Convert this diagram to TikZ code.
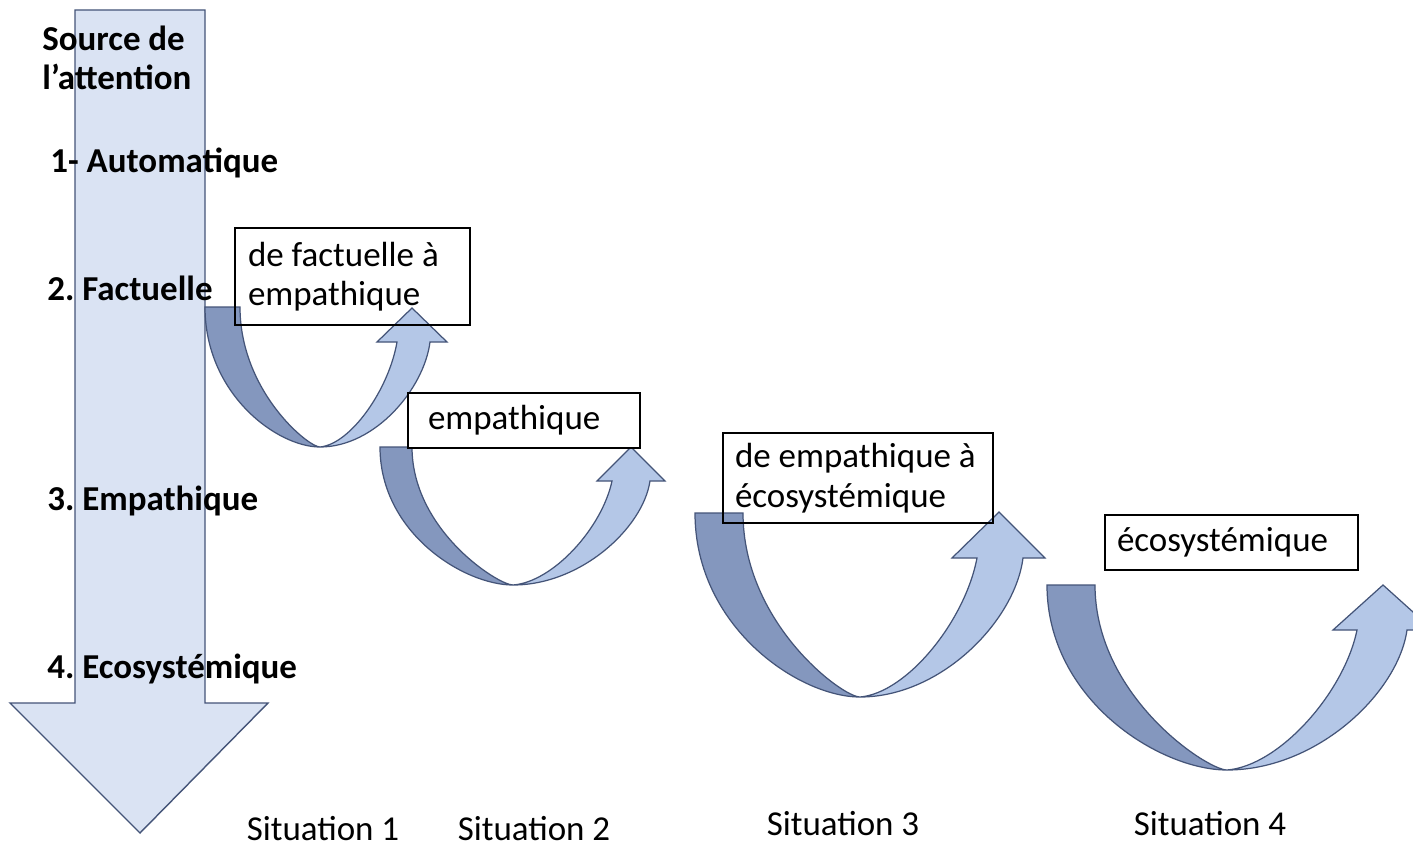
\documentclass[tikz,border=0pt]{standalone}
\usepackage{fontspec}
\setmainfont{Carlito}
\definecolor{paleblue}{RGB}{218,227,243}
\definecolor{lightband}{RGB}{180,199,231}
\definecolor{darkband}{RGB}{132,151,190}
\definecolor{edgeblue}{RGB}{68,84,120}

\begin{document}
\frenchspacing
\begin{tikzpicture}[x=0.02cm,y=-0.02cm]
\tikzset{bigarrow/.style = {fill=paleblue, draw=edgeblue, line width=0.8pt}}
\tikzset{back/.style = {fill=darkband, draw=edgeblue, line width=0.7pt}}
\tikzset{front/.style = {fill=lightband, draw=edgeblue, line width=0.7pt}}
\tikzset{level/.style = {anchor=base west, inner sep=0pt, font=\bfseries}}
\tikzset{situation/.style = {anchor=base, inner sep=0pt}}
\tikzset{textbox/.style = {draw, line width=1pt, align=flush left, inner ysep=0pt}}
\clip (0,0) rectangle (1413,851);
\fill[white] (0,0) rectangle (1413,851);
\fontsize{19.9pt}{22.5pt}\selectfont
% big arrow on the left
\draw[bigarrow] (75,10) -- (205,10) -- (205,703) -- (268,703) -- (140,833) -- (10,703) -- (75,703) -- cycle;
% situation 1
\draw[back] (205,307) .. controls (205,394) and (277,447) .. (320,447) .. controls (308,447) and (240,391) .. (240,307) -- cycle;
\draw[front] (320,447) .. controls (375,447) and (424,389) .. (430,342) -- (447,342) -- (412,308) -- (377,342) -- (397,342) .. controls (389,389) and (351,444) .. (320,447) -- cycle;
% situation 2
\draw[back] (380,447) .. controls (380,533) and (464,585) .. (513,585) .. controls (498,585) and (412,530) .. (412,447) -- cycle;
\draw[front] (513,585) .. controls (581,585) and (643,528) .. (650,481) -- (665,481) -- (631,447) -- (597,481) -- (612,481) .. controls (602,528) and (553,582) .. (513,585) -- cycle;
% situation 3
\draw[back] (695,513) .. controls (695,627) and (799,697) .. (860,697) .. controls (842,697) and (743,623) .. (743,513) -- cycle;
\draw[front] (860,697) .. controls (941,697) and (1015,621) .. (1023,558) -- (1045,558) -- (999,512) -- (952,558) -- (977,558) .. controls (965,621) and (907,693) .. (860,697) -- cycle;
% situation 4
\draw[back] (1047,585) .. controls (1047,700) and (1160,770) .. (1227,770) .. controls (1207,770) and (1095,696) .. (1095,585) -- cycle;
\draw[front] (1227,770) .. controls (1317,770) and (1398,693) .. (1407,630) -- (1433,630) -- (1383,585) -- (1333,630) -- (1357,630) .. controls (1344,693) and (1279,766) .. (1227,770) -- cycle;
% levels
\node[level, align=left] (src) at (42,90) {Source de\\l’attention};
\node[level] (lvl1) at (50,173) {1- Automatique};
\node[level] (lvl2) at (47,300) {2. Factuelle};
\node[level] (lvl3) at (47,510) {3. Empathique};
\node[level] (lvl4) at (47,678) {4. Ecosystémique};
% boxes
\node[textbox, minimum width=4.7cm, minimum height=1.94cm, inner xsep=0.26cm, text width=4.18cm] (box1) at (352.5,276.5) {de factuelle à\\empathique};
\node[textbox, fill=white, minimum width=4.64cm, minimum height=1.1cm, inner xsep=0.4cm, text width=3.84cm] (box2) at (524,420.5) {empathique};
\node[textbox, minimum width=5.4cm, minimum height=1.8cm, inner xsep=0.24cm, text width=4.92cm] (box3) at (858,478) {de empathique à\\écosystémique};
\node[textbox, fill=white, minimum width=5.06cm, minimum height=1.1cm, inner xsep=0.24cm, text width=4.58cm] (box4) at (1231.5,542.5) {écosystémique};
% situations
\node[situation] (sit1) at (323,840) {Situation 1};
\node[situation] (sit2) at (534,840) {Situation 2};
\node[situation] (sit3) at (843,835) {Situation 3};
\node[situation] (sit4) at (1210,835) {Situation 4};
\end{tikzpicture}
\end{document}
